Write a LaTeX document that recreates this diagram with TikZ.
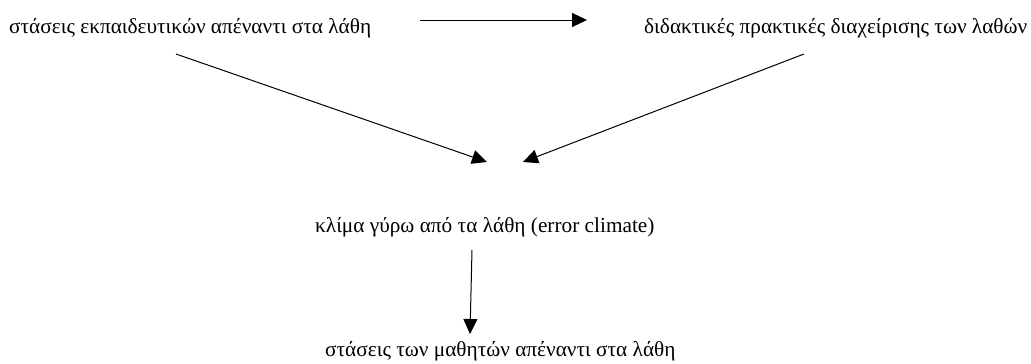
\documentclass[tikz,border=0pt]{standalone}
\usepackage{fontspec}
\setmainfont{Liberation Serif}
\usetikzlibrary{arrows.meta}
\tikzset{
  lbl/.style={anchor=base west, inner sep=0pt, font=\fontsize{21.3}{25}\selectfont},
  conn/.style={line width=1pt, -{Triangle[length=15pt,width=14pt]}}
}
\begin{document}
\begin{tikzpicture}[x=1pt,y=-1pt]
\useasboundingbox (0,0) rectangle (1031,364);
\node[lbl] (t1) at (9,33) {στάσεις εκπαιδευτικών απέναντι στα λάθη};
\node[lbl] (t2) at (644,33) {διδακτικές πρακτικές διαχείρισης των λαθών};
\node[lbl] (t3) at (315,232) {κλίμα γύρω από τα λάθη (error climate)};
\node[lbl] (t4) at (325,356) {στάσεις των μαθητών απέναντι στα λάθη};
\coordinate (a1s) at (420,20);
\coordinate (a1e) at (587,20);
\coordinate (l1) at (176,54);
\coordinate (l2) at (487,162);
\coordinate (r1) at (804,54);
\coordinate (r2) at (523,162);
\coordinate (v1) at (472,250);
\coordinate (v2) at (470,334);
\draw[conn] (a1s) -- (a1e);
\draw[conn] (l1) -- (l2);
\draw[conn] (r1) -- (r2);
\draw[conn] (v1) -- (v2);
\end{tikzpicture}
\end{document}
